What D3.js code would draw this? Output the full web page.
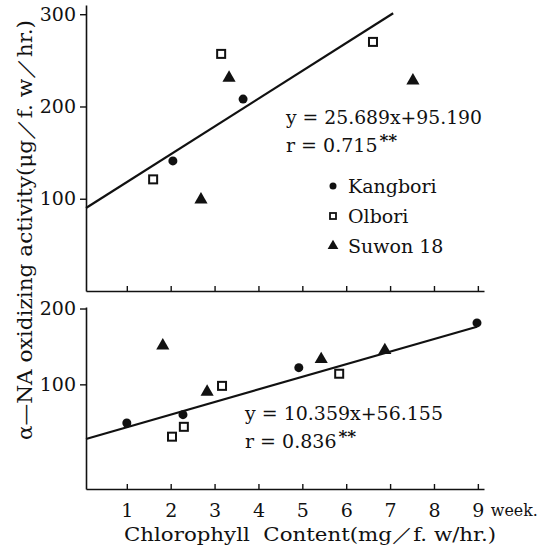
<!DOCTYPE html>
<html>
<head>
<meta charset="utf-8">
<script src="https://cdn.jsdelivr.net/npm/d3@7"></script>
<style>
  body { margin: 0; background: #fff; }
  svg { display: block; }
  text { font-family: "DejaVu Serif", "Liberation Serif", serif; fill: #111; }
</style>
</head>
<body>
<svg id="chart" width="544" height="551"></svg>
<script>
// ---- data ----
const weekTicks = [1, 2, 3, 4, 5, 6, 7, 8, 9];
const topTicks = [100, 200, 300];
const bottomTicks = [100, 200];

// upper panel
const topKangbori = [[2.05, 141], [3.65, 208]];
const topOlbori = [[1.60, 121], [3.15, 257], [6.61, 270]];
const topSuwon = [[2.69, 99], [3.33, 231], [7.52, 228]];
const topFit = [[0.07, 90], [7.07, 301]];
const topEquation = "y = 25.689x+95.190";
const topR = "r = 0.715";

// lower panel
const bottomKangbori = [[1.0, 49], [2.28, 60], [4.92, 122], [8.98, 181]];
const bottomOlbori = [[2.03, 31], [2.30, 44], [3.17, 98], [5.84, 114]];
const bottomSuwon = [[1.82, 151], [2.83, 90], [5.43, 133], [6.88, 145]];
const bottomFit = [[0.07, 28], [8.98, 176]];
const bottomEquation = "y = 10.359x+56.155";
const bottomR = "r = 0.836";

const legendNames = ["Kangbori", "Olbori", "Suwon 18"];

// ---- drawing ----
const svg = d3.select("#chart");

const x = d3.scaleLinear().domain([0.07, 9.14]).range([86, 484]);
const yTop = d3.scaleLinear().domain([0, 310]).range([291, 5]);
const yBottom = d3.scaleLinear().domain([-38, 202]).range([489, 307]);

function drawPanel(g, y, ticks, showLabels) {
    // x axis, ticks inward
    let xAxis = d3.axisBottom(x).tickValues(weekTicks).tickSizeInner(-5).tickSizeOuter(0)
        .tickFormat(showLabels ? d3.format("d") : "");
    let gx = g.append("g").attr("transform", `translate(0,${y.range()[0]})`).call(xAxis);
    gx.select(".domain").attr("stroke", "#111").attr("stroke-width", 1.6);
    gx.selectAll(".tick line").attr("stroke", "#111").attr("stroke-width", 1.4);
    gx.selectAll(".tick text").attr("font-size", 19).attr("y", 8).attr("dy", "1.05em").attr("fill", "#111");

    let yAxis = d3.axisLeft(y).tickValues(ticks).tickSizeInner(6).tickSizeOuter(0).tickPadding(4);
    let gy = g.append("g").attr("transform", `translate(${x.range()[0]},0)`).call(yAxis);
    gy.select(".domain").attr("stroke", "#111").attr("stroke-width", 1.6);
    gy.selectAll(".tick line").attr("stroke", "#111").attr("stroke-width", 1.4);
    gy.selectAll(".tick text").attr("font-size", 19).attr("fill", "#111");
}

function drawPoints(g, y, kang, olb, suw) {
    g.selectAll(null).data(kang).join("circle")
        .attr("cx", d => x(d[0])).attr("cy", d => y(d[1])).attr("r", 4.5).attr("fill", "#111");
    g.selectAll(null).data(olb).join("rect")
        .attr("x", d => x(d[0]) - 4).attr("y", d => y(d[1]) - 4)
        .attr("width", 8).attr("height", 8)
        .attr("fill", "#fff").attr("stroke", "#111").attr("stroke-width", 2);
    g.selectAll(null).data(suw).join("path")
        .attr("d", d3.symbol(d3.symbolTriangle, 75))
        .attr("transform", d => `translate(${x(d[0])},${y(d[1])})`)
        .attr("fill", "#111");
}

function drawFit(g, y, fit) {
    g.append("path").datum(fit)
        .attr("d", d3.line().x(d => x(d[0])).y(d => y(d[1])))
        .attr("fill", "none").attr("stroke", "#111").attr("stroke-width", 2.2);
}

function drawEquation(g, px, py, eq, r, width) {
    g.append("text").attr("x", px).attr("y", py).attr("font-size", 19)
        .attr("textLength", width).attr("lengthAdjust", "spacingAndGlyphs").text(eq);
    let t = g.append("text").attr("x", px).attr("y", py + 28).attr("font-size", 19);
    t.append("tspan").text(r);
    t.append("tspan").attr("dy", -6).attr("dx", 2).attr("font-weight", "bold").attr("font-size", 17).text("**");
}

let topPanel = svg.append("g");
drawPanel(topPanel, yTop, topTicks, false);
drawFit(topPanel, yTop, topFit);
drawPoints(topPanel, yTop, topKangbori, topOlbori, topSuwon);
drawEquation(topPanel, 286, 124, topEquation, topR, 196);

let bottomPanel = svg.append("g");
drawPanel(bottomPanel, yBottom, bottomTicks, true);
drawFit(bottomPanel, yBottom, bottomFit);
drawPoints(bottomPanel, yBottom, bottomKangbori, bottomOlbori, bottomSuwon);
drawEquation(bottomPanel, 245, 420, bottomEquation, bottomR, 198);

// "week." after the last tick label
svg.append("text").attr("x", x(9) + 13).attr("y", 516).attr("font-size", 17)
    .attr("textLength", 47).attr("lengthAdjust", "spacingAndGlyphs").text("week.");

// legend
let legend = svg.append("g");
legendNames.forEach(function(name, i) {
    let ly = 186 + i * 30;
    if (i === 0) {
        legend.append("circle").attr("cx", 333).attr("cy", ly).attr("r", 3.5).attr("fill", "#111");
    }
    else if (i === 1) {
        legend.append("rect").attr("x", 330).attr("y", ly - 3).attr("width", 6).attr("height", 6)
            .attr("fill", "#fff").attr("stroke", "#111").attr("stroke-width", 1.8);
    }
    else {
        legend.append("path").attr("d", d3.symbol(d3.symbolTriangle, 50))
            .attr("transform", `translate(333,${ly})`).attr("fill", "#111");
    }
    legend.append("text").attr("x", 348).attr("y", ly + 7).attr("font-size", 19).text(name);
});

// axis titles
svg.append("text")
    .attr("transform", "translate(32,230) rotate(-90)")
    .attr("text-anchor", "middle").attr("font-size", 20)
    .attr("textLength", 420).attr("lengthAdjust", "spacingAndGlyphs")
    .text("α\u2014NA oxidizing activity(μg／f. w／hr.)");

svg.append("text")
    .attr("x", 124).attr("y", 541).attr("font-size", 19)
    .attr("textLength", 372).attr("lengthAdjust", "spacingAndGlyphs")
    .style("white-space", "pre")
    .text("Chlorophyll  Content(mg／f. w/hr.)");
</script>
</body>
</html>
